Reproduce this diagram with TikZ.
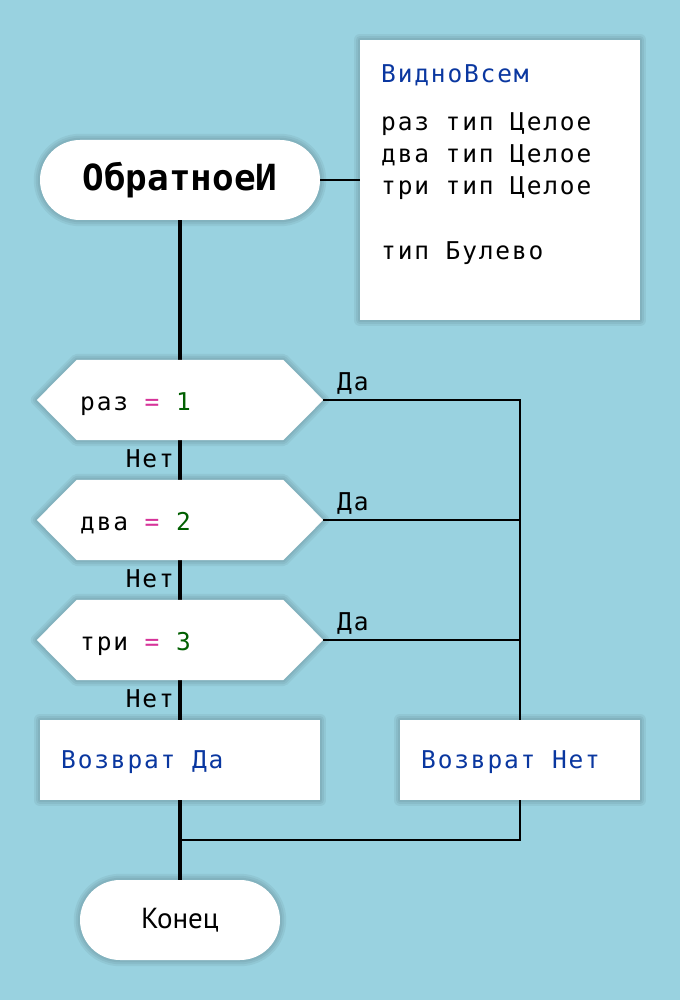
\documentclass[tikz,border=0pt]{standalone}
\usepackage{fontspec}
\usetikzlibrary{calc}
\newfontfamily\monof[LetterSpace=7.5]{DejaVu Sans Mono}
\newfontfamily\titlef{DejaVu Sans Mono}
\newfontfamily\konf{PT Sans}
\definecolor{bgc}{RGB}{153,210,224}
\definecolor{kwc}{RGB}{10,55,160}
\definecolor{eqc}{RGB}{214,51,153}
\definecolor{numc}{RGB}{0,95,0}
\pgfdeclarelayer{bg}
\pgfdeclarelayer{ln}
\pgfdeclarelayer{sh}
\pgfsetlayers{bg,ln,sh,main}
\tikzset{
  term/.style={rectangle, rounded corners=40pt, fill=white, inner sep=0pt, minimum height=80pt},
  box/.style={rectangle, fill=white, inner sep=0pt},
  hexn/.style={rectangle, inner sep=0pt, minimum width=286pt, minimum height=80pt},
  txt/.style={anchor=base west, inner sep=0pt, font=\monof\fontsize{24.5}{28}\selectfont},
  lbl/.style={inner sep=0pt, font=\monof\fontsize{24.5}{28}\selectfont},
  mainln/.style={line width=3.5pt},
  thinln/.style={line width=2pt},
  shline/.style={draw=black, line width=#1, draw opacity=0.05, line join=round, fill=none, yshift=-2pt},
}
\begin{document}
\begin{tikzpicture}[x=1pt,y=-1pt]
\begin{pgfonlayer}{bg}
\fill[bgc] (0,0) rectangle (680,1000);
\end{pgfonlayer}
\useasboundingbox (0,0) rectangle (680,1000);

% start terminal and comment
\node[term, minimum width=280pt] (start) at (180,180) {\titlef\bfseries\fontsize{36}{40}\selectfont ОбратноеИ};
\node[box, minimum width=280pt, minimum height=280pt] (cmt) at (500,180) {};
\node[txt, text=kwc] (c0) at (381,83) {ВидноВсем};
\node[txt] (c1) at (381,131) {раз тип Целое};
\node[txt] (c2) at (381,163) {два тип Целое};
\node[txt] (c3) at (381,195) {три тип Целое};
\node[txt] (c4) at (381,259) {тип Булево};

% decisions
\node[hexn] (d1) at (180,400) {};
\node[hexn] (d2) at (180,520) {};
\node[hexn] (d3) at (180,640) {};
\foreach \d in {d1,d2,d3}{
  \begin{pgfonlayer}{sh}
  \foreach \k in {12,8,4}{
    \path[shline=\k pt] (\d.west) -- ($(\d.north west)+(40,0)$) -- ($(\d.north east)+(-40,0)$) -- (\d.east) -- ($(\d.south east)+(-40,0)$) -- ($(\d.south west)+(40,0)$) -- cycle;
  }
  \end{pgfonlayer}
  \path[fill=white] (\d.west) -- ($(\d.north west)+(40,0)$) -- ($(\d.north east)+(-40,0)$) -- (\d.east) -- ($(\d.south east)+(-40,0)$) -- ($(\d.south west)+(40,0)$) -- cycle;
}
\node[txt] (t1) at (80,410) {раз {\color{eqc}=} {\color{numc}1}};
\node[txt] (t2) at (80,530) {два {\color{eqc}=} {\color{numc}2}};
\node[txt] (t3) at (80,650) {три {\color{eqc}=} {\color{numc}3}};

% returns and end
\node[box, minimum width=280pt, minimum height=80pt] (r1) at (180,760) {};
\node[box, minimum width=240pt, minimum height=80pt] (r2) at (520,760) {};
\node[txt, text=kwc] (r1t) at (61,768) {Возврат Да};
\node[txt, text=kwc] (r2t) at (421,768) {Возврат Нет};
\node[term, minimum width=200pt] (fin) at (180,920) {\konf\fontsize{29}{32}\selectfont Конец};

% shadows
\begin{pgfonlayer}{sh}
\foreach \k in {12,8,4}{
  \foreach \n in {cmt,r1,r2}{
    \path[shline=\k pt] (\n.north west) rectangle (\n.south east);
  }
  \foreach \n in {start,fin}{
    \path[shline=\k pt, rounded corners=40pt] (\n.north west) rectangle (\n.south east);
  }
}
\end{pgfonlayer}

% labels
\node[lbl, anchor=base west] (y1) at (337,390) {Да};
\node[lbl, anchor=base west] (y2) at (337,510) {Да};
\node[lbl, anchor=base west] (y3) at (337,630) {Да};
\node[lbl, anchor=base east] (n1) at (174,467) {Нет};
\node[lbl, anchor=base east] (n2) at (174,587) {Нет};
\node[lbl, anchor=base east] (n3) at (174,707) {Нет};

\coordinate (m) at (180,840);

% connectors
\begin{pgfonlayer}{ln}
\draw[thinln] (start.east) -- (cmt.west);
\draw[mainln] (start.south) -- (d1.north);
\draw[mainln] (d1.south) -- (d2.north);
\draw[mainln] (d2.south) -- (d3.north);
\draw[mainln] (d3.south) -- (r1.north);
\draw[mainln] (r1.south) -- (fin.north);
\draw[thinln] (d1.east) -| (r2.north);
\draw[thinln] (d2.east) -- (d2.east -| r2.north);
\draw[thinln] (d3.east) -- (d3.east -| r2.north);
\draw[thinln] (r2.south) |- (m);
\end{pgfonlayer}
\end{tikzpicture}
\end{document}
